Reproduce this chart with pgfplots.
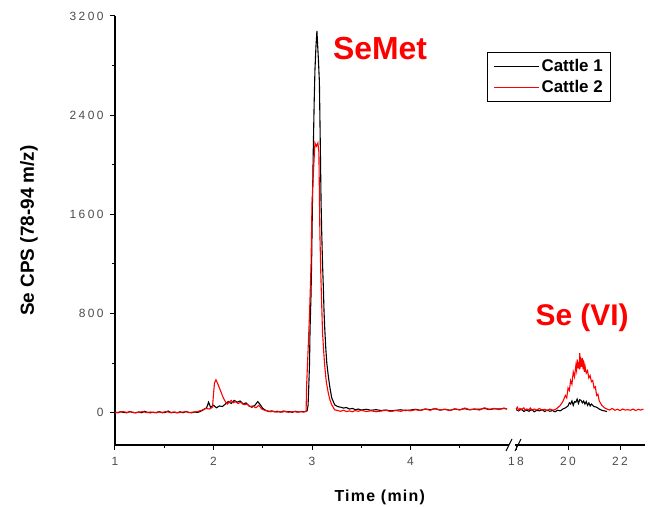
\documentclass[border=0pt]{standalone}
\usepackage{fontspec}
\setmainfont{Liberation Sans}
\newfontfamily\tickfont[LetterSpace=20]{Liberation Sans}
\newfontfamily\labfont[LetterSpace=8]{Liberation Sans}
\usepackage{pgfplots}
\pgfplotsset{compat=1.18}

\pgfplotsset{
  segment/.style={
    scale only axis,
    height=429bp,
    ymin=-260, ymax=3200,
    axis x line*=bottom,
    tick align=outside,
    axis line style={line width=1.2bp, black},
    tick style={line width=1bp, black},
    major tick length=5bp,
    minor tick length=3bp,
    tick label style={font=\tickfont\fontsize{12}{14}\selectfont, text=black!70},
    xticklabel style={yshift=-4bp},
    yticklabel style={xshift=-3bp},
    /pgf/number format/assume math mode=true,
    /pgf/number format/1000 sep={},
  },
}

\begin{document}
\begin{tikzpicture}
\useasboundingbox (-115bp,-62bp) rectangle (535bp,445bp);

% left part of the broken time axis
\begin{axis}[segment,
  at={(0bp,0bp)}, anchor=south west,
  width=394bp,
  xmin=1, xmax=5,
  axis y line*=left,
  xtick={1,2,3,4}, minor xtick={1.5,2.5,3.5,4.5},
  ytick={0,800,1600,2400,3200}, minor ytick={400,1200,2000,2800},
  ylabel={\bfseries Se CPS (78-94 m/z)},
  ylabel style={at={(axis description cs:-0.218,0.5)}, anchor=center, font=\fontsize{19}{22}\selectfont},
  xlabel={\labfont\bfseries Time (min)},
  xlabel style={at={(axis description cs:0.672,-0.121)}, anchor=center, font=\fontsize{16}{18}\selectfont},
  legend style={at={(axis description cs:0.944,0.916)}, anchor=north west,
    draw=black, line width=1.2bp, inner xsep=6bp, inner ysep=5bp,
    font=\bfseries\fontsize{17}{19}\selectfont, row sep=3bp,
    cells={anchor=west}},
  legend image code/.code={\path (0bp,0bp) -- (5bp,0bp);
    \draw[#1, line width=1bp] (5bp,0bp) -- (45bp,0bp);},
]
\addplot[black, line width=1.1bp] coordinates {
(1.00,5) (1.03,0) (1.06,8) (1.09,2) (1.12,0) (1.15,10) (1.18,3) (1.21,0) (1.24,6) (1.27,0)
(1.30,12) (1.33,2) (1.36,0) (1.39,5) (1.42,0) (1.45,9) (1.48,0) (1.51,3) (1.54,14) (1.57,0)
(1.60,4) (1.63,0) (1.66,8) (1.69,0) (1.72,11) (1.75,2) (1.78,0) (1.81,6) (1.84,3) (1.87,12)
(1.90,25) (1.93,40) (1.95,85) (1.97,45) (2.00,60) (2.03,40) (2.06,55) (2.09,50) (2.12,70)
(2.15,90) (2.18,75) (2.21,100) (2.24,85) (2.27,95) (2.30,70) (2.33,80) (2.36,55) (2.39,45)
(2.42,60) (2.45,90) (2.47,70) (2.50,35) (2.53,20) (2.56,10) (2.59,15) (2.62,8) (2.65,12)
(2.68,5) (2.71,14) (2.74,7) (2.77,10) (2.80,4) (2.83,12) (2.86,6) (2.89,10) (2.92,8) (2.95,15)
(2.96,60) (2.965,161) (2.975,400) (2.98,669) (2.99,950) (2.996,1209) (3.005,1717) (3.013,2120)
(3.022,2500) (3.03,2765) (3.04,2950) (3.05,3080) (3.055,3000) (3.065,2850) (3.075,2670)
(3.085,2120) (3.092,1700) (3.098,1476) (3.107,1200) (3.115,1018) (3.122,820) (3.13,669)
(3.14,520) (3.15,403) (3.166,293) (3.18,212) (3.2,121) (3.23,64) (3.26,50) (3.29,45)
(3.32,38) (3.35,42) (3.38,30) (3.41,35) (3.44,25) (3.47,30) (3.50,22) (3.55,28) (3.60,20)
(3.65,25) (3.70,18) (3.75,22) (3.80,15) (3.85,20) (3.90,24) (3.95,18) (4.00,22) (4.05,28)
(4.10,20) (4.15,30) (4.20,25) (4.25,32) (4.30,22) (4.35,28) (4.40,20) (4.45,30) (4.50,25)
(4.55,33) (4.60,24) (4.65,30) (4.70,28) (4.75,35) (4.80,26) (4.85,32) (4.90,30) (4.95,35) (4.98,30)
};
\addlegendentry{Cattle 1}
\addplot[red, line width=1.1bp] coordinates {
(1.00,0) (1.04,5) (1.08,10) (1.12,3) (1.16,8) (1.20,0) (1.24,4) (1.28,9) (1.32,2) (1.36,6)
(1.40,0) (1.44,7) (1.48,3) (1.52,10) (1.56,2) (1.60,6) (1.64,0) (1.68,5) (1.72,8) (1.76,2)
(1.80,6) (1.84,10) (1.88,20) (1.92,35) (1.96,30) (1.99,45) (2.00,150) (2.01,240) (2.025,266)
(2.04,240) (2.06,200) (2.08,160) (2.10,120) (2.12,90) (2.14,70) (2.16,85) (2.18,100) (2.20,80)
(2.22,90) (2.25,75) (2.28,85) (2.31,65) (2.34,70) (2.37,50) (2.40,55) (2.43,40) (2.46,60)
(2.49,30) (2.52,20) (2.55,15) (2.58,8) (2.61,12) (2.64,5) (2.67,10) (2.70,6) (2.73,12)
(2.76,4) (2.79,8) (2.82,10) (2.85,5) (2.88,9) (2.91,6) (2.94,10)
(2.945,210) (2.96,500) (2.975,800) (2.99,1182) (3.0,1690) (3.015,1950) (3.03,2176) (3.045,2150)
(3.06,2176) (3.07,2100) (3.08,1450) (3.09,1100) (3.107,645) (3.12,480) (3.13,371) (3.145,250)
(3.165,161) (3.18,110) (3.2,64) (3.23,24) (3.26,18) (3.29,12) (3.32,20) (3.35,10) (3.38,15)
(3.41,8) (3.44,18) (3.47,12) (3.50,20) (3.55,10) (3.60,16) (3.65,8) (3.70,14) (3.75,20)
(3.80,10) (3.85,18) (3.90,12) (3.95,22) (4.00,15) (4.05,25) (4.10,18) (4.15,30) (4.20,20)
(4.25,35) (4.30,22) (4.35,28) (4.40,18) (4.45,32) (4.50,22) (4.55,38) (4.60,25) (4.65,30)
(4.70,22) (4.75,40) (4.80,28) (4.85,35) (4.90,25) (4.95,38) (4.98,30)
};
\addlegendentry{Cattle 2}
\node[text=red, font=\bfseries\fontsize{32}{34}\selectfont] at (axis cs:3.69,2940) {SeMet};
\end{axis}

% right part of the broken time axis
\begin{axis}[segment,
  at={(400bp,0bp)}, anchor=south west,
  width=130bp,
  xmin=17.96, xmax=22.96,
  axis y line=none, ytick=\empty,
  xtick={18,20,22},
]
\addplot[black, line width=1.1bp] coordinates {
(18.0,25) (18.1,15) (18.2,30) (18.3,10) (18.4,22) (18.5,12) (18.6,28) (18.7,8) (18.8,20)
(18.9,15) (19.0,25) (19.1,10) (19.2,22) (19.3,12) (19.4,18) (19.5,8) (19.6,20) (19.7,15)
(19.8,30) (19.9,40) (20.0,55) (20.05,80) (20.1,70) (20.15,95) (20.2,60) (20.25,90) (20.3,85)
(20.35,110) (20.4,75) (20.45,105) (20.5,100) (20.55,80) (20.6,95) (20.65,70) (20.7,90)
(20.75,60) (20.8,80) (20.85,55) (20.9,70) (21.0,50) (21.1,45) (21.2,30) (21.3,20) (21.4,15) (21.5,10)
};
\addplot[red, line width=1.1bp] coordinates {
(18.0,30) (18.05,45) (18.1,20) (18.15,35) (18.2,25) (18.3,40) (18.35,20) (18.4,30) (18.5,25)
(18.55,38) (18.6,20) (18.7,30) (18.8,22) (18.9,35) (19.0,20) (19.1,28) (19.2,18) (19.3,30)
(19.4,22) (19.5,25) (19.6,40) (19.7,60) (19.8,90) (19.9,140) (19.95,120) (20.0,200) (20.05,180)
(20.1,260) (20.15,230) (20.2,330) (20.25,290) (20.3,380) (20.33,340) (20.35,430) (20.38,360)
(20.4,410) (20.43,350) (20.45,480) (20.48,390) (20.5,420) (20.53,370) (20.55,440) (20.58,350)
(20.6,390) (20.63,330) (20.65,380) (20.7,320) (20.75,340) (20.8,280) (20.85,300) (20.9,250)
(20.95,260) (21.0,200) (21.05,210) (21.1,140) (21.15,150) (21.2,95) (21.3,60) (21.4,40)
(21.5,30) (21.6,22) (21.7,35) (21.8,20) (21.9,28) (22.0,18) (22.1,30) (22.2,22) (22.3,25)
(22.4,20) (22.5,30) (22.6,18) (22.7,28) (22.8,22) (22.9,30)
};
\node[text=red, font=\bfseries\fontsize{30}{32}\selectfont] at (axis cs:20.54,766) {Se (VI)};
\end{axis}

% break marks on the time axis
\draw[line width=1bp] (391bp,-6bp) -- (397bp,6bp);
\draw[line width=1bp] (400bp,-6bp) -- (406bp,6bp);
\end{tikzpicture}
\end{document}
